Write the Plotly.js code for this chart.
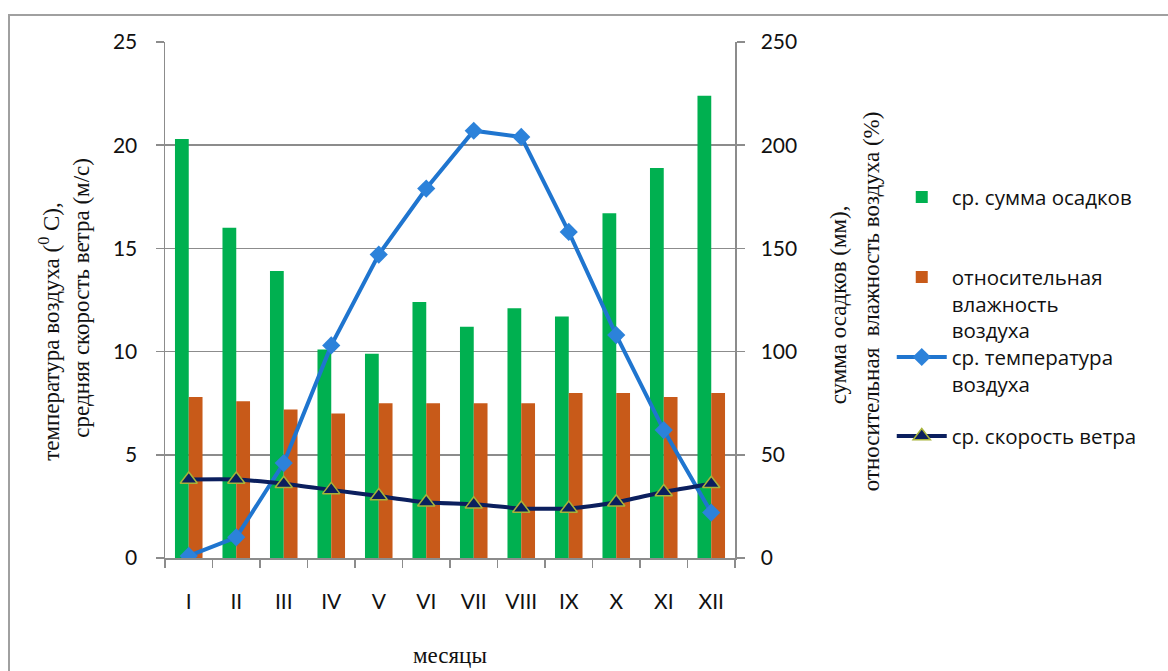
<!DOCTYPE html>
<html>
<head>
<meta charset="utf-8">
<script src="https://cdn.plot.ly/plotly-3.0.1.min.js"></script>
<style>
  html, body { margin: 0; padding: 0; background: #fff; }
  #wrap { position: relative; width: 1168px; height: 671px; }
  #chart { position: absolute; left: 0; top: 0; width: 1168px; height: 671px; }
  #frame { position: absolute; left: 8px; top: 14px; right: 0; bottom: 0;
           border-top: 2px solid #a0a0a0; border-left: 2px solid #a0a0a0;
           pointer-events: none; }
</style>
</head>
<body>
<div id="wrap">
  <div id="chart"></div>
  <div id="frame"></div>
</div>
<script>
// Месяцы
const months = ['I', 'II', 'III', 'IV', 'V', 'VI', 'VII', 'VIII', 'IX', 'X', 'XI', 'XII'];
// Средняя сумма осадков, мм (правая ось)
const precipitation = [203, 160, 139, 101, 99, 124, 112, 121, 117, 167, 189, 224];
// Относительная влажность воздуха, % (правая ось)
const humidity = [78, 76, 72, 70, 75, 75, 75, 75, 80, 80, 78, 80];
// Средняя температура воздуха, °C (левая ось)
const temperature = [0.1, 1.0, 4.6, 10.3, 14.7, 17.9, 20.7, 20.4, 15.8, 10.8, 6.2, 2.2];
// Средняя скорость ветра, м/с (левая ось)
const wind = [3.8, 3.8, 3.6, 3.3, 3.0, 2.7, 2.6, 2.4, 2.4, 2.7, 3.2, 3.6];

const tickFont = { family: 'Lato, "Open Sans", sans-serif', size: 21, color: '#111' };
const legendFont = { family: '"Open Sans", sans-serif', size: 20.5, color: '#111' };
const serif = { family: '"Liberation Serif", "DejaVu Serif", serif', size: 23, color: '#111' };
const gridColor = '#8c8c8c';

const traces = [
  {
    type: 'bar', name: 'ср. сумма осадков',
    x: months, y: precipitation, yaxis: 'y',
    marker: { color: '#00B050' }, legend: 'legend'
  },
  {
    type: 'bar', name: 'относительная<br>влажность<br>воздуха',
    x: months, y: humidity, yaxis: 'y',
    marker: { color: '#C85A19' }, legend: 'legend2'
  },
  {
    type: 'scatter', mode: 'lines+markers', name: 'ср. температура<br>воздуха',
    x: months, y: temperature, yaxis: 'y2',
    line: { color: '#1F75CF', width: 4 },
    marker: { symbol: 'diamond', size: 14, color: '#2C82DA' },
    legend: 'legend3'
  },
  {
    type: 'scatter', mode: 'lines+markers', name: 'ср. скорость ветра',
    x: months, y: wind, yaxis: 'y2',
    line: { color: '#0B1F5E', width: 4, shape: 'spline', smoothing: 0.6 },
    marker: { symbol: 'triangle-up', size: 15, color: '#0B1F5E',
              line: { color: '#A7B33A', width: 1.5 } },
    legend: 'legend4'
  }
];

function legendAt(y) {
  return {
    x: 1.275, xanchor: 'left', y: y, yanchor: 'top',
    font: legendFont, bgcolor: 'rgba(0,0,0,0)', itemwidth: 50,
    valign: 'top', itemclick: false, itemdoubleclick: false
  };
}

const layout = {
  width: 1168, height: 671,
  margin: { l: 165, r: 433, t: 42, b: 113, autoexpand: false },
  paper_bgcolor: '#fff', plot_bgcolor: '#fff',
  barmode: 'group', bargap: 0.42, bargroupgap: 0,
  showlegend: true,
  xaxis: {
    type: 'category', range: [-0.5, months.length - 0.5], showgrid: false,
    showline: true, linecolor: gridColor, linewidth: 1.5,
    ticks: 'outside', tickson: 'boundaries', ticklen: 8, tickcolor: gridColor, tickwidth: 1.5,
    tickfont: tickFont, ticklabelstandoff: 24
  },
  // правая ось: осадки и влажность
  yaxis: {
    side: 'right', range: [0, 250], dtick: 50,
    showgrid: true, gridcolor: gridColor, gridwidth: 1.5,
    showline: true, linecolor: gridColor, linewidth: 1.5,
    ticks: 'outside', ticklen: 8, tickcolor: gridColor, tickwidth: 1.5,
    tickfont: tickFont, ticklabelstandoff: 12, zeroline: false
  },
  // левая ось: температура и ветер
  yaxis2: {
    overlaying: 'y', side: 'left', range: [0, 25], dtick: 5,
    showgrid: false,
    showline: true, linecolor: gridColor, linewidth: 1.5,
    ticks: 'outside', ticklen: 8, tickcolor: gridColor, tickwidth: 1.5,
    tickfont: tickFont, ticklabelstandoff: 14, zeroline: false
  },
  legend: legendAt(0.738),
  legend2: legendAt(0.583),
  legend3: legendAt(0.428),
  legend4: legendAt(0.275),
  annotations: [
    { text: 'температура воздуха (<sup>0</sup> С),', textangle: -90,
      xref: 'paper', yref: 'paper', x: -0.202, y: 0.44, xanchor: 'center', yanchor: 'middle',
      showarrow: false, font: serif },
    { text: 'средняя скорость ветра (м/с)', textangle: -90,
      xref: 'paper', yref: 'paper', x: -0.147, y: 0.505, xanchor: 'center', yanchor: 'middle',
      showarrow: false, font: serif },
    { text: 'сумма осадков (мм),', textangle: -90,
      xref: 'paper', yref: 'paper', x: 1.181, y: 0.49, xanchor: 'center', yanchor: 'middle',
      showarrow: false, font: serif },
    { text: 'относительная  влажность воздуха (%)', textangle: -90,
      xref: 'paper', yref: 'paper', x: 1.239, y: 0.498, xanchor: 'center', yanchor: 'middle',
      showarrow: false, font: serif },
    { text: 'месяцы', xref: 'paper', yref: 'paper', x: 0.5, y: -0.188,
      xanchor: 'center', yanchor: 'middle', showarrow: false, font: serif }
  ]
};

Plotly.newPlot('chart', traces, layout, { staticPlot: true, displayModeBar: false });
</script>
</body>
</html>
